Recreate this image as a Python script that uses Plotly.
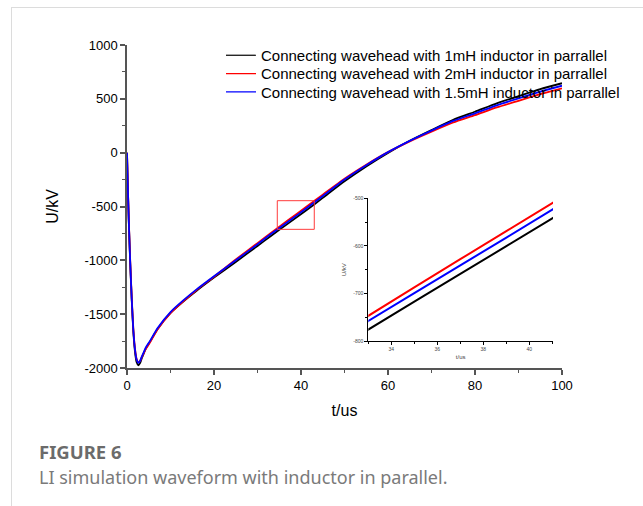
import plotly.graph_objects as go

# ---- data ----
t_us = [0, 0.15, 0.4, 0.75, 1.1, 1.46, 1.84, 2.2, 2.6, 3.0, 3.4, 3.8, 4.3, 5.3, 7, 10,
        13, 16, 20, 25, 30, 33, 37, 41, 45, 50, 55, 60, 65, 70, 75, 80, 85, 90, 95, 100]

u_1mH = [0, -250, -625, -1040, -1380, -1665, -1850, -1945, -1975, -1955, -1910, -1868,
         -1822, -1755, -1640, -1488, -1380, -1282, -1160, -1015, -866, -776, -659, -542,
         -420, -266, -128, -2, 110, 210, 305, 380, 458, 525, 590, 645]

u_2mH = [0, -245, -610, -1020, -1360, -1640, -1822, -1915, -1948, -1935, -1900, -1868,
         -1825, -1762, -1642, -1490, -1378, -1275, -1152, -992, -840, -747, -628, -510,
         -390, -242, -112, 5, 105, 195, 280, 348, 420, 482, 543, 598]

u_15mH = [0, -250, -620, -1030, -1370, -1650, -1830, -1920, -1952, -1935, -1895, -1858,
          -1812, -1748, -1630, -1480, -1370, -1270, -1148, -1000, -850, -758, -641, -524,
          -402, -250, -117, 5, 110, 205, 295, 365, 440, 505, 567, 622]

series_names = ["Connecting wavehead with 1mH inductor in parrallel",
                "Connecting wavehead with 2mH inductor in parrallel",
                "Connecting wavehead with 1.5mH inductor in parrallel"]
series_values = [u_1mH, u_2mH, u_15mH]
series_colors = ["#000000", "#ff0000", "#0000ff"]

main_xticks = [0, 20, 40, 60, 80, 100]
main_yticks = [1000, 500, 0, -500, -1000, -1500, -2000]
main_ytext = ["1000", "500", "0", "-500", "-1000", "-1500", "-2000"]

inset_xticks = [34, 36, 38, 40]
inset_yticks = [-500, -600, -700, -800]
inset_ytext = ["-500", "-600", "-700", "-800"]

zoom_box_t = [34.55, 43.05]
zoom_box_u = [-712, -446]

# ---- figure ----
W, H = 643, 506
L, R, T, B = 127, 81, 45, 138
pw, ph = W - L - R, H - T - B


def px_x(p):
    return (p - L) / pw


def px_y(p):
    return 1 - (p - T) / ph


fig = go.Figure()

legend_ids = ["legend", "legend2", "legend3"]
legend_rows_px = [39, 57.3, 75.7]

# legend-only entries (thin sample lines), one legend per row
for name, col, lg in zip(series_names, series_colors, legend_ids):
    fig.add_trace(go.Scatter(x=[None], y=[None], mode="lines", name=name, legend=lg,
                             line=dict(color=col, width=1.2), xaxis="x", yaxis="y"))

for name, vals, col in zip(series_names, series_values, series_colors):
    fig.add_trace(go.Scatter(x=t_us, y=vals, mode="lines", name=name, showlegend=False,
                             line=dict(color=col, width=1.8, shape="spline", smoothing=0.6),
                             xaxis="x", yaxis="y"))

for name, vals, col in zip(series_names, series_values, series_colors):
    fig.add_trace(go.Scatter(x=t_us, y=vals, mode="lines", name=name, showlegend=False,
                             line=dict(color=col, width=2, shape="spline", smoothing=0.6),
                             xaxis="x2", yaxis="y2"))

axis_col = "#555555"
font_main = "Arial"

legend_layout = {}
for lg, ypx in zip(legend_ids, legend_rows_px):
    legend_layout[lg] = dict(x=px_x(221), y=px_y(ypx), xanchor="left", yanchor="top",
                             bgcolor="rgba(0,0,0,0)", borderwidth=0,
                             font=dict(size=15, family=font_main, color="#000"),
                             itemwidth=30)

fig.update_layout(
    width=W, height=H,
    margin=dict(l=L, r=R, t=T, b=B),
    paper_bgcolor="white", plot_bgcolor="rgba(0,0,0,0)",
    font=dict(family=font_main, color="#000000", size=13),
    showlegend=True,
    **legend_layout,
    xaxis=dict(domain=[0, 1], range=[0, 100], tickvals=main_xticks,
               showgrid=False, zeroline=False, showline=True, linecolor=axis_col, linewidth=1.5,
               ticks="outside", ticklen=5, tickwidth=1.5, tickcolor=axis_col,
               minor=dict(ticks="outside", dtick=10, ticklen=3, tickwidth=1.2, tickcolor=axis_col),
               tickfont=dict(size=13), title=dict(text="t/us", font=dict(size=16), standoff=12)),
    yaxis=dict(domain=[0, 1], range=[-2000, 1000], tickvals=main_yticks, ticktext=main_ytext,
               showgrid=False, zeroline=False, showline=True, linecolor=axis_col, linewidth=1.5,
               ticks="outside", ticklen=5, tickwidth=1.5, tickcolor=axis_col,
               minor=dict(ticks="outside", dtick=250, ticklen=3, tickwidth=1.2, tickcolor=axis_col),
               tickfont=dict(size=13), title=dict(text="U/kV", font=dict(size=16), standoff=22)),
    xaxis2=dict(domain=[px_x(368.3), px_x(553)], anchor="y2", range=[33, 41.03],
                tickvals=inset_xticks, showgrid=False, zeroline=False,
                showline=True, linecolor="#000", linewidth=1,
                ticks="outside", ticklen=3, tickwidth=1, tickcolor="#000",
                minor=dict(ticks="outside", dtick=1, ticklen=2, tickwidth=1, tickcolor="#000"),
                tickfont=dict(size=5, color="#444"),
                title=dict(text="t/us", font=dict(size=6, color="#444"), standoff=3)),
    yaxis2=dict(domain=[px_y(341), px_y(198.3)], anchor="x2", range=[-800, -500],
                tickvals=inset_yticks, ticktext=inset_ytext, showgrid=False, zeroline=False,
                showline=True, linecolor="#000", linewidth=1,
                ticks="outside", ticklen=3, tickwidth=1, tickcolor="#000",
                minor=dict(ticks="outside", dtick=50, ticklen=2, tickwidth=1, tickcolor="#000"),
                tickfont=dict(size=5, color="#444"),
                title=dict(text="U/kV", font=dict(size=6, color="#444"), standoff=6)),
)

# zoom box on the main axes
fig.add_shape(type="rect", xref="x", yref="y",
              x0=zoom_box_t[0], x1=zoom_box_t[1], y0=zoom_box_u[0], y1=zoom_box_u[1],
              line=dict(color="#ff3b3b", width=1), fillcolor="rgba(0,0,0,0)")

# card border
border_col = "#dcdcdc"
fig.add_shape(type="line", xref="paper", yref="paper",
              x0=px_x(11), x1=px_x(W + 5), y0=px_y(7.5), y1=px_y(7.5),
              line=dict(color=border_col, width=1))
fig.add_shape(type="line", xref="paper", yref="paper",
              x0=px_x(11.5), x1=px_x(11.5), y0=px_y(7.5), y1=px_y(H + 5),
              line=dict(color=border_col, width=1))

# caption
fig.add_annotation(text="<b>FIGURE 6</b>", xref="paper", yref="paper",
                   x=px_x(37), y=px_y(452), xanchor="left", yanchor="middle", showarrow=False,
                   font=dict(family="Noto Sans, sans-serif", size=18.5, color="#6b6b6b"))
fig.add_annotation(text="LI simulation waveform with inductor in parallel.", xref="paper", yref="paper",
                   x=px_x(37), y=px_y(477), xanchor="left", yanchor="middle", showarrow=False,
                   font=dict(family="Noto Sans, sans-serif", size=18, color="#7a7a7a"))

fig.write_html("out.html", config={"displayModeBar": False},
               post_script="document.body.style.margin='0';")
